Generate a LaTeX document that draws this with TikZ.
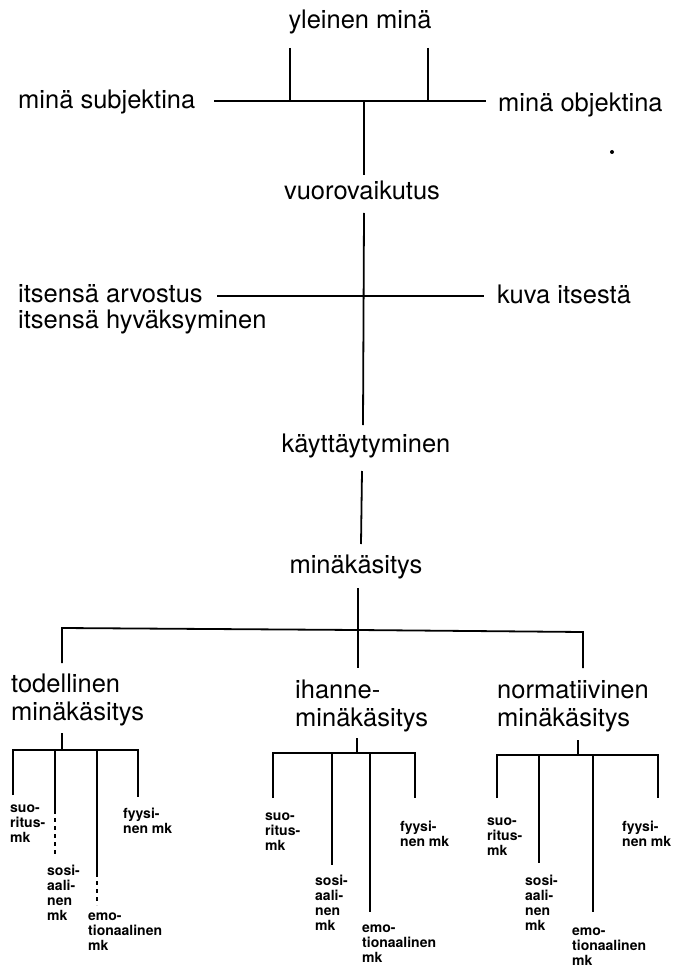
\documentclass[tikz,border=0pt]{standalone}
\usepackage{fontspec}
\setmainfont{TeX Gyre Heros}
\tikzset{
  lbl/.style={inner sep=0pt, font=\fontsize{25.5}{27}\selectfont},
  small/.style={inner sep=0pt, anchor=north west, align=left, font=\fontsize{14}{15}\selectfont\bfseries},
  ln/.style={line width=1.8pt},
  dashln/.style={line width=1.4pt, dash pattern=on 4pt off 4pt},
}
\begin{document}
\begin{tikzpicture}[x=1pt,y=-1pt]
\useasboundingbox (0,0) rectangle (688,973);
% ---- top part ----
\node[lbl, anchor=base] (yleinen) at (360,29) {yleinen minä};
\node[lbl, anchor=base west] (subj) at (18,109) {minä subjektina};
\node[lbl, anchor=base west] (obj) at (498,112) {minä objektina};
\coordinate (ya) at (290,48); \coordinate (yaj) at (290,101);
\coordinate (yb) at (428,48); \coordinate (ybj) at (428,101);
\coordinate (hL) at (214,101); \coordinate (hR) at (486,101);
\coordinate (hM) at (364,101); \coordinate (vTop) at (364,175);
\draw[ln] (ya) -- (yaj);
\draw[ln] (yb) -- (ybj);
\draw[ln] (hL) -- (hR);
\draw[ln] (hM) -- (vTop);
\fill (612,152) circle (2);
\node[lbl, anchor=base] (vuoro) at (362,200) {vuorovaikutus};
% ---- cross ----
\coordinate (c1) at (364,213); \coordinate (c2) at (363,425);
\coordinate (cL) at (217,296); \coordinate (cR) at (484,296);
\draw[ln] (c1) -- (c2);
\draw[ln] (cL) -- (cR);
\node[lbl, anchor=base west] (arv) at (18,302) {itsensä arvostus};
\node[lbl, anchor=base west] (hyv) at (18,328) {itsensä hyväksyminen};
\node[lbl, anchor=base west] (kuva) at (497,303) {kuva itsestä};
\node[lbl, anchor=base] (kayt) at (366,452) {käyttäytyminen};
\coordinate (k1) at (362,471); \coordinate (k2) at (361,544);
\draw[ln] (k1) -- (k2);
\node[lbl, anchor=base] (mk) at (356,573) {minäkäsitys};
% ---- three-way split ----
\coordinate (m1) at (358,588); \coordinate (mj) at (358,630); \coordinate (m2) at (358,668);
\coordinate (bL) at (62,663); \coordinate (bLt) at (62,628);
\coordinate (bR) at (583,668); \coordinate (bRt) at (583,632);
\draw[ln] (m1) -- (m2);
\draw[ln] (bL) -- (bLt) -- (mj) -- (bRt) -- (bR);
\node[lbl, anchor=base west] (tod1) at (11,692) {todellinen};
\node[lbl, anchor=base west] (tod2) at (11,720) {minäkäsitys};
\node[lbl, anchor=base west] (ih1) at (295,698) {ihanne-};
\node[lbl, anchor=base west] (ih2) at (295,726) {minäkäsitys};
\node[lbl, anchor=base west] (no1) at (497,698) {normatiivinen};
\node[lbl, anchor=base west] (no2) at (497,726) {minäkäsitys};
% ---- left subtree ----
\coordinate (Ls) at (62,733); \coordinate (Lj) at (62,750);
\coordinate (L1t) at (13,750); \coordinate (L1b) at (13,795);
\coordinate (L2t) at (55,750); \coordinate (L2m) at (55,810); \coordinate (L2b) at (55,855);
\coordinate (L3t) at (97,750); \coordinate (L3m) at (97,873); \coordinate (L3b) at (97,905);
\coordinate (L4t) at (138,750); \coordinate (L4b) at (138,797);
\draw[ln] (Ls) -- (Lj);
\draw[ln] (L1b) -- (L1t) -- (L4t) -- (L4b);
\draw[ln] (L2t) -- (L2m);
\draw[dashln] (L2m) -- (L2b);
\draw[ln] (L3t) -- (L3m);
\draw[dashln] (L3m) -- (L3b);
\node[small] (L1) at (10,805) {suo-\\ritus-\\mk};
\node[small] (L2) at (47,865) {sosi-\\aali-\\nen\\mk};
\node[small] (L3) at (88,913) {emo-\\tionaalinen\\mk};
\node[small] (L4) at (123,808) {fyysi-\\nen mk};
% ---- middle subtree ----
\coordinate (Ms) at (357,738); \coordinate (Mj) at (357,753);
\coordinate (M1t) at (273,753); \coordinate (M1b) at (273,798);
\coordinate (M2t) at (332,753); \coordinate (M2b) at (332,865);
\coordinate (M3t) at (370,753); \coordinate (M3b) at (370,912);
\coordinate (M4t) at (415,753); \coordinate (M4b) at (415,798);
\draw[ln] (Ms) -- (Mj);
\draw[ln] (M1b) -- (M1t) -- (M4t) -- (M4b);
\draw[ln] (M2t) -- (M2b);
\draw[ln] (M3t) -- (M3b);
\node[small] (M1) at (265,813) {suo-\\ritus-\\mk};
\node[small] (M2) at (315,875) {sosi-\\aali-\\nen\\mk};
\node[small] (M3) at (362,925) {emo-\\tionaalinen\\mk};
\node[small] (M4) at (400,821) {fyysi-\\nen mk};
% ---- right subtree ----
\coordinate (Rs) at (578,740); \coordinate (Rj) at (578,755);
\coordinate (R1t) at (497,755); \coordinate (R1b) at (497,798);
\coordinate (R2t) at (539,755); \coordinate (R2b) at (539,863);
\coordinate (R3t) at (593,755); \coordinate (R3b) at (593,912);
\coordinate (R4t) at (658,755); \coordinate (R4b) at (658,798);
\draw[ln] (Rs) -- (Rj);
\draw[ln] (R1b) -- (R1t) -- (R4t) -- (R4b);
\draw[ln] (R2t) -- (R2b);
\draw[ln] (R3t) -- (R3b);
\node[small] (R1) at (487,818) {suo-\\ritus-\\mk};
\node[small] (R2) at (525,875) {sosi-\\aali-\\nen\\mk};
\node[small] (R3) at (572,928) {emo-\\tionaalinen\\mk};
\node[small] (R4) at (622,821) {fyysi-\\nen mk};
\end{tikzpicture}
\end{document}
